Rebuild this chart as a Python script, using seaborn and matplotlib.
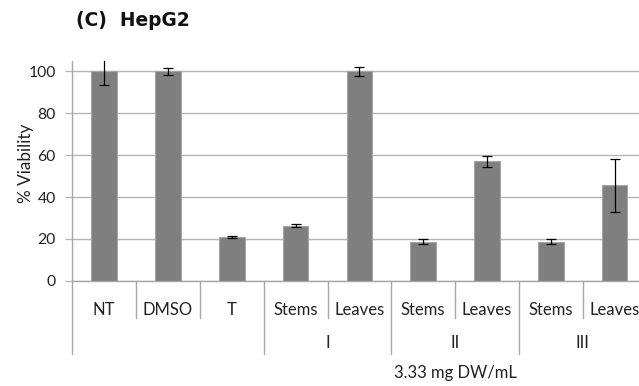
import matplotlib
matplotlib.use("Agg")
import matplotlib.pyplot as plt
import matplotlib.transforms as mtransforms
import seaborn as sns
import pandas as pd

categories = ["NT", "DMSO", "T", "Stems I", "Leaves I", "Stems II", "Leaves II", "Stems III", "Leaves III"]
tick_labels = ["NT", "DMSO", "T", "Stems", "Leaves", "Stems", "Leaves", "Stems", "Leaves"]
viability = [100.0, 100.0, 21.0, 26.2, 100.0, 18.7, 57.0, 18.7, 45.5]
errors = [6.5, 1.8, 0.6, 0.7, 2.0, 1.2, 2.8, 1.0, 12.7]
groups = ["I", "II", "III"]
group_centers = [3.5, 5.5, 7.5]
y_ticks = [0, 20, 40, 60, 80, 100]

sns.set_theme(style="white")
plt.rcParams["font.family"] = ["Lato", "DejaVu Sans"]

fig = plt.figure(figsize=(6.39, 3.86), dpi=100)
W, H = 639, 386
x0, x1 = 72.3, 646.5
y0, ytop = 280.7, 61.0
ax = fig.add_axes([x0 / W, (H - y0) / H, (x1 - x0) / W, (y0 - ytop) / H])

df = pd.DataFrame({"cat": categories, "val": viability})
sns.barplot(data=df, x="cat", y="val", order=categories, color="#7f7f7f",
            saturation=1, width=0.40, edgecolor="#a6a6a6", linewidth=0.8, ax=ax, zorder=3)
ax.errorbar(x=list(range(len(categories))), y=viability, yerr=errors, fmt="none",
            ecolor="black", elinewidth=0.9, capsize=3.6, capthick=0.9, zorder=4)

ax.set_ylim(0, 105)
ax.set_xlim(-0.5, len(categories) - 0.5)
ax.set_yticks(y_ticks)
ax.set_yticklabels([str(t) for t in y_ticks], fontsize=11.3, color="#222222")
ax.yaxis.grid(True, color="#b5b5b5", linewidth=1.0, zorder=0)
ax.set_axisbelow(True)
ax.tick_params(axis="y", length=5, width=0.9, color="#b5b5b5", pad=7, left=True)
ax.set_ylabel("% Viability", fontsize=12.3, color="#222222")
ax.yaxis.set_label_coords((34 - x0) / (x1 - x0), (y0 - 163) / (y0 - ytop))

ax.set_xticks(range(len(categories)))
ax.set_xticklabels(tick_labels, fontsize=12, color="#222222")
ax.tick_params(axis="x", length=0, pad=15)
ax.set_xlabel("")

for s in ["top", "right"]:
    ax.spines[s].set_visible(False)
ax.spines["left"].set_color("#a6a6a6")
ax.spines["bottom"].set_color("#a6a6a6")
ax.spines["left"].set_linewidth(1.0)
ax.spines["bottom"].set_linewidth(1.0)

trans = mtransforms.blended_transform_factory(ax.transData, ax.transAxes)
ax_h_px = y0 - ytop
short_end = -(318 - y0) / ax_h_px
long_end = -(354 - y0) / ax_h_px
long_divs = [-0.5, 2.5, 4.5, 6.5, 8.5]
for i in range(len(categories) + 1):
    xd = i - 0.5
    end = long_end if xd in long_divs else short_end
    ax.plot([xd, xd], [0, end], transform=trans, color="#a6a6a6", linewidth=1.0,
            clip_on=False, zorder=5)

lvl2_y = -(343 - y0) / ax_h_px
for g, c in zip(groups, group_centers):
    ax.text(c, lvl2_y, g, transform=trans, ha="center", va="center", fontsize=12, color="#222222")
ax.text(5.5, -(373 - y0) / ax_h_px, "3.33 mg DW/mL", transform=trans, ha="center", va="center",
        fontsize=12, color="#222222")

fig.text(76 / W, 1 - 20.5 / H, "(C)  HepG2", fontsize=13.4, fontweight="bold", ha="left", va="center",
         color="#111111", family=["DejaVu Sans"])

fig.savefig("out.png", dpi=100)
